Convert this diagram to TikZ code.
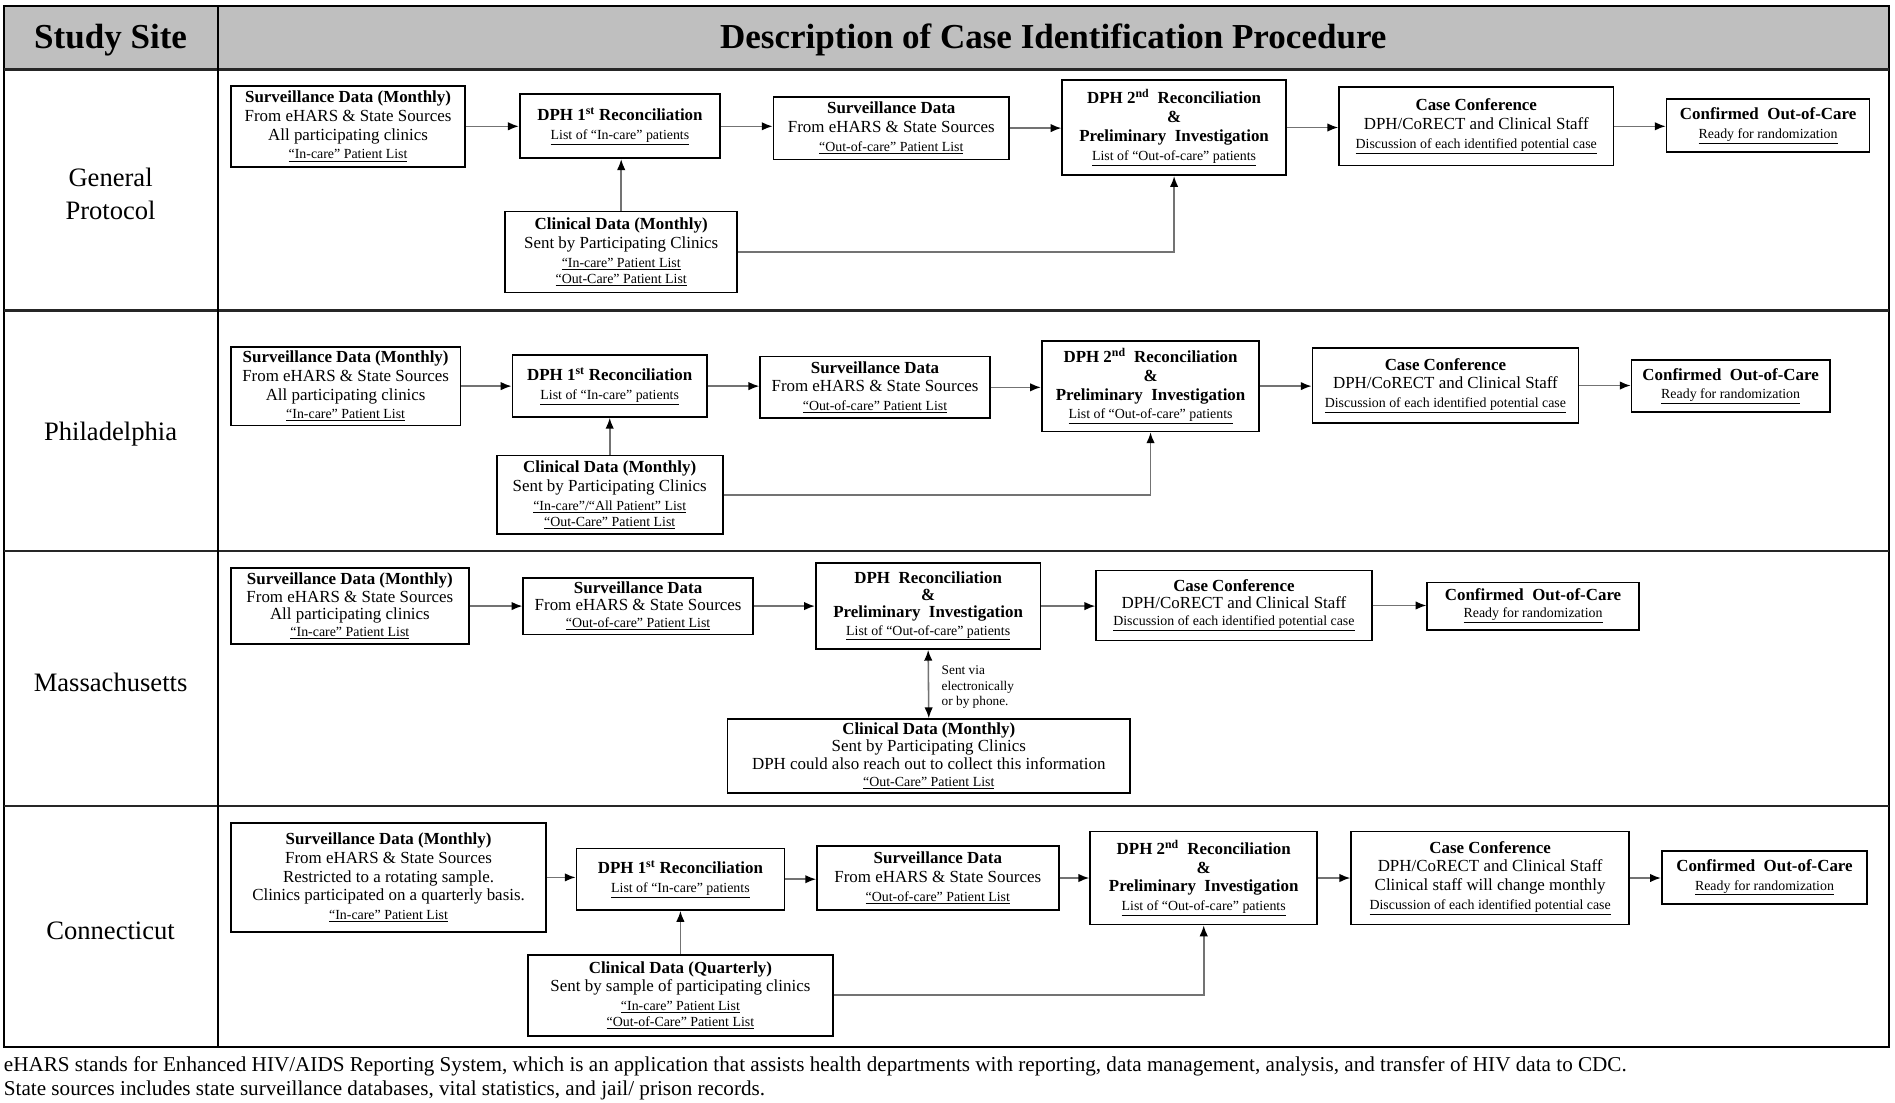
\documentclass[tikz,border=0pt]{standalone}
\usepackage{fontspec}
\setmainfont{Liberation Serif}
\usetikzlibrary{arrows.meta}
\definecolor{headgray}{HTML}{BFBFBF}
\newcommand{\ulsm}[1]{{\fontsize{11.5}{13}\selectfont\underline{#1}}}
\begin{document}
\begin{tikzpicture}[x=1pt,y=-1pt,
  box/.style={draw=black, line width=1.4pt, fill=white, align=center, inner sep=1pt,
              font=\fontsize{14}{15.5}\selectfont,
              execute at begin node={\rule{0pt}{15.5pt}}},
  boxm/.style={box, font=\fontsize{14}{14.2}\selectfont},
  flow/.style={draw=black!55, line width=1.3pt, -{Latex[black,length=9pt,width=7pt]}},
  biflow/.style={draw=black!55, line width=1.3pt, {Latex[black,length=9pt,width=7pt]}-{Latex[black,length=9pt,width=7pt]}},
  sep/.style={line width=2.2pt, black!85},
  site/.style={align=center, font=\fontsize{22}{28}\selectfont},
  head/.style={font=\fontsize{29}{31}\selectfont\bfseries},
  foot/.style={anchor=west, inner sep=0pt, font=\fontsize{17.5}{20}\selectfont},
  note/.style={anchor=west, align=left, inner sep=0pt, font=\fontsize{11}{12.5}\selectfont}]
\useasboundingbox (0,0) rectangle (1568,912);

% table
\fill[headgray] (3,5) rectangle (1563,57.5);
\draw[line width=1.6pt] (3,5) rectangle (1563,866);
\draw[sep] (3,57.5) -- (1563,57.5);
\draw[sep] (3,257) -- (1563,257);
\draw[sep] (3,456) -- (1563,456);
\draw[sep] (3,667) -- (1563,667);
\draw[line width=1.6pt] (180,5) -- (180,866);

\node[head] (hsite) at (91.5,33) {Study Site};
\node[head] (hdesc) at (871.5,33) {Description of Case Identification Procedure};

\node[site] (sGP) at (91.5,160.5) {General\\Protocol};
\node[site] (sPH) at (91.5,359.5) {Philadelphia};
\node[site] (sMA) at (91.5,564.5) {Massachusetts};
\node[site] (sCT) at (91.5,770.5) {Connecticut};

% ---------- General Protocol
\node[box, minimum width=194, minimum height=67] (A1) at (288,104.5)
 {\textbf{Surveillance Data (Monthly)}\\From eHARS \& State Sources\\All participating clinics\\\ulsm{“In-care” Patient List}};
\node[box, minimum width=166, minimum height=53] (A2) at (513,104.5)
 {\textbf{DPH 1\textsuperscript{st} Reconciliation}\\\ulsm{List of “In-care” patients}};
\node[box, minimum width=195, minimum height=52] (A3) at (737.5,106)
 {\textbf{Surveillance Data}\\From eHARS \& State Sources\\\ulsm{“Out-of-care” Patient List}};
\node[box, minimum width=185, minimum height=79] (A4) at (971.5,105.5)
 {\textbf{DPH 2\textsuperscript{nd}\ \ Reconciliation}\\\textbf{\&}\\\textbf{Preliminary\ \ Investigation}\\\ulsm{List of “Out-of-care” patients}};
\node[box, minimum width=227, minimum height=65] (A5) at (1221.5,104.5)
 {\textbf{Case Conference}\\DPH/CoRECT and Clinical Staff\\\ulsm{Discussion of each identified potential case}};
\node[box, minimum width=168, minimum height=44] (A6) at (1463,104)
 {\textbf{Confirmed\ \ Out-of-Care}\\\ulsm{Ready for randomization}};
\node[box, minimum width=192, minimum height=67] (A7) at (514,208.5)
 {\textbf{Clinical Data (Monthly)}\\Sent by Participating Clinics\\\ulsm{“In-care” Patient List}\\[-2.5pt]\ulsm{“Out-Care” Patient List}};
\draw[flow] (A1.east) -- (A1.east -| A2.west);
\draw[flow] (A2.east) -- (A2.east -| A3.west);
\draw[flow] (A3.east) -- (A3.east -| A4.west);
\draw[flow] (A4.east) -- (A4.east -| A5.west);
\draw[flow] (A5.east) -- (A5.east -| A6.west);
\draw[flow] (A7.north) -- (A7.north |- A2.south);
\draw[flow] (A7.east) -| (A4.south);

% ---------- Philadelphia
\node[box, minimum width=190, minimum height=65] (B1) at (286,319.5)
 {\textbf{Surveillance Data (Monthly)}\\From eHARS \& State Sources\\All participating clinics\\\ulsm{“In-care” Patient List}};
\node[box, minimum width=161, minimum height=51] (B2) at (504.5,319.5)
 {\textbf{DPH 1\textsuperscript{st} Reconciliation}\\\ulsm{List of “In-care” patients}};
\node[box, minimum width=190, minimum height=51] (B3) at (724,320.5)
 {\textbf{Surveillance Data}\\From eHARS \& State Sources\\\ulsm{“Out-of-care” Patient List}};
\node[box, minimum width=180, minimum height=75] (B4) at (952,319.5)
 {\textbf{DPH 2\textsuperscript{nd}\ \ Reconciliation}\\\textbf{\&}\\\textbf{Preliminary\ \ Investigation}\\\ulsm{List of “Out-of-care” patients}};
\node[box, minimum width=220, minimum height=62] (B5) at (1196,319)
 {\textbf{Case Conference}\\DPH/CoRECT and Clinical Staff\\\ulsm{Discussion of each identified potential case}};
\node[box, minimum width=164, minimum height=43] (B6) at (1432,319.5)
 {\textbf{Confirmed\ \ Out-of-Care}\\\ulsm{Ready for randomization}};
\node[box, minimum width=187, minimum height=65] (B7) at (504.5,409.5)
 {\textbf{Clinical Data (Monthly)}\\Sent by Participating Clinics\\\ulsm{“In-care”/“All Patient” List}\\[-2.5pt]\ulsm{“Out-Care” Patient List}};
\draw[flow] (B1.east) -- (B1.east -| B2.west);
\draw[flow] (B2.east) -- (B2.east -| B3.west);
\draw[flow] (B3.east) -- (B3.east -| B4.west);
\draw[flow] (B4.east) -- (B4.east -| B5.west);
\draw[flow] (B5.east) -- (B5.east -| B6.west);
\draw[flow] (B7.north) -- (B7.north |- B2.south);
\draw[flow] (B7.east) -| (B4.south);

% ---------- Massachusetts
\node[boxm, minimum width=197, minimum height=63] (C1) at (289.5,501.5)
 {\textbf{Surveillance Data (Monthly)}\\From eHARS \& State Sources\\All participating clinics\\\ulsm{“In-care” Patient List}};
\node[boxm, minimum width=190, minimum height=47] (C2) at (528,501.5)
 {\textbf{Surveillance Data}\\From eHARS \& State Sources\\\ulsm{“Out-of-care” Patient List}};
\node[boxm, minimum width=186, minimum height=71] (C3) at (768,501.5)
 {\textbf{DPH\ \ Reconciliation}\\\textbf{\&}\\\textbf{Preliminary\ \ Investigation}\\\ulsm{List of “Out-of-care” patients}};
\node[boxm, minimum width=228, minimum height=58] (C4) at (1021,501)
 {\textbf{Case Conference}\\DPH/CoRECT and Clinical Staff\\\ulsm{Discussion of each identified potential case}};
\node[boxm, minimum width=175, minimum height=39] (C5) at (1268.5,501.5)
 {\textbf{Confirmed\ \ Out-of-Care}\\\ulsm{Ready for randomization}};
\node[boxm, minimum width=333, minimum height=61] (C6) at (768.5,625.5)
 {\textbf{Clinical Data (Monthly)}\\Sent by Participating Clinics\\DPH could also reach out to collect this information\\\ulsm{“Out-Care” Patient List}};
\draw[flow] (C1.east) -- (C1.east -| C2.west);
\draw[flow] (C2.east) -- (C2.east -| C3.west);
\draw[flow] (C3.east) -- (C3.east -| C4.west);
\draw[flow] (C4.east) -- (C4.east -| C5.west);
\draw[biflow] (C3.south) -- (C6.north);
\node[note] (Cnote) at (779,568.5) {Sent via\\electronically\\or by phone.};

% ---------- Connecticut
\node[box, minimum width=261, minimum height=90] (D1) at (321.5,726)
 {\textbf{Surveillance Data (Monthly)}\\From eHARS \& State Sources\\Restricted to a rotating sample.\\Clinics participated on a quarterly basis.\\\ulsm{“In-care” Patient List}};
\node[box, minimum width=172, minimum height=51] (D2) at (563,727.5)
 {\textbf{DPH 1\textsuperscript{st} Reconciliation}\\\ulsm{List of “In-care” patients}};
\node[box, minimum width=200, minimum height=53] (D3) at (776,726.5)
 {\textbf{Surveillance Data}\\From eHARS \& State Sources\\\ulsm{“Out-of-care” Patient List}};
\node[box, minimum width=188, minimum height=77] (D4) at (996,726.5)
 {\textbf{DPH 2\textsuperscript{nd}\ \ Reconciliation}\\\textbf{\&}\\\textbf{Preliminary\ \ Investigation}\\\ulsm{List of “Out-of-care” patients}};
\node[box, minimum width=230, minimum height=77] (D5) at (1233,726.5)
 {\textbf{Case Conference}\\DPH/CoRECT and Clinical Staff\\Clinical staff will change monthly\\\ulsm{Discussion of each identified potential case}};
\node[box, minimum width=170, minimum height=44] (D6) at (1460,726)
 {\textbf{Confirmed\ \ Out-of-Care}\\\ulsm{Ready for randomization}};
\node[box, minimum width=252, minimum height=67] (D7) at (563,823.5)
 {\textbf{Clinical Data (Quarterly)}\\Sent by sample of participating clinics\\\ulsm{“In-care” Patient List}\\[-2.5pt]\ulsm{“Out-of-Care” Patient List}};
\draw[flow] (D1.east) -- (D1.east -| D2.west);
\draw[flow] (D2.east) -- (D2.east -| D3.west);
\draw[flow] (D3.east) -- (D3.east -| D4.west);
\draw[flow] (D4.east) -- (D4.east -| D5.west);
\draw[flow] (D5.east) -- (D5.east -| D6.west);
\draw[flow] (D7.north) -- (D7.north |- D2.south);
\draw[flow] (D7.east) -| (D4.south);

% ---------- footnotes
\node[foot] (f1) at (3,882) {eHARS stands for Enhanced HIV/AIDS Reporting System, which is an application that assists health departments with reporting, data management, analysis, and transfer of HIV data to CDC.};
\node[foot] (f2) at (3,902) {State sources includes state surveillance databases, vital statistics, and jail/ prison records.};
\end{tikzpicture}
\end{document}
